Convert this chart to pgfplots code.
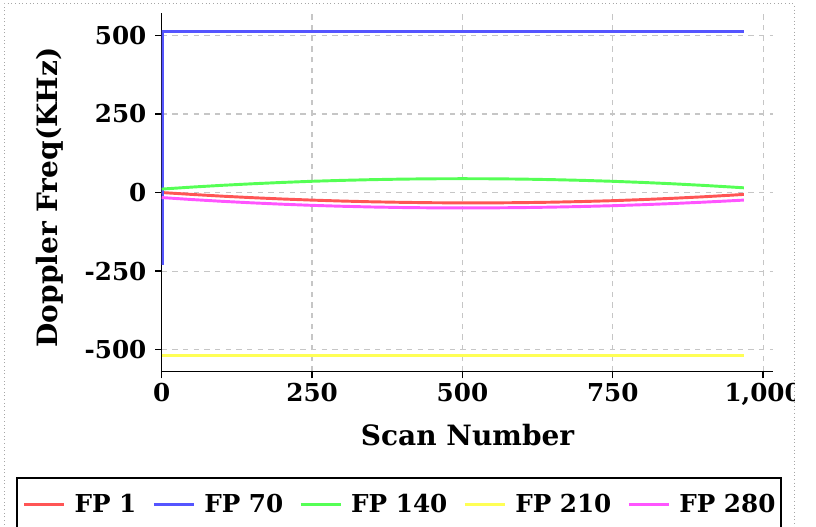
\documentclass[border=0pt]{standalone}
\usepackage{fontspec}
\setmainfont{DejaVu Serif}
\usepackage{pgfplots}
\pgfplotsset{compat=1.18}
\definecolor{fpred}{HTML}{FF5555}
\definecolor{fpblue}{HTML}{5555FF}
\definecolor{fpgreen}{HTML}{55FF55}
\definecolor{fpyellow}{HTML}{FFFF55}
\definecolor{fpmag}{HTML}{FF55FF}
\begin{document}
\begin{tikzpicture}
\path[use as bounding box] (0pt,0pt) rectangle (612pt,394.5pt);
\begin{scope}
\clip (3pt,-10pt) rectangle (595.5pt,391.5pt);
\begin{axis}[
  at={(121.3pt,115.7pt)}, anchor=south west,
  scale only axis, width=458.7pt, height=268.8pt,
  xmin=0, xmax=1017, ymin=-570, ymax=570,
  axis x line*=bottom, axis y line*=left,
  axis line style={-, line width=1.1pt},
  xtick={0,250,500,750,1000}, xticklabels={0,250,500,750,{1,000}},
  ytick={-500,-250,0,250,500}, yticklabels={-500,-250,0,250,500},
  tick align=outside, major tick length=5pt,
  tick style={black, line width=1pt},
  grid=major,
  major grid style={gray!45, line width=0.9pt, dash pattern=on 4pt off 4pt},
  ticklabel style={font=\fontsize{18.5pt}{20pt}\selectfont\bfseries},
  yticklabel style={xshift=-3pt},
  xlabel={Scan Number}, ylabel={Doppler Freq(KHz)},
  label style={font=\fontsize{21pt}{24pt}\selectfont\bfseries},
  xlabel style={at={(axis description cs:0.5,-0.146)}, anchor=north, inner sep=0pt},
  ylabel style={at={(axis description cs:-0.161,0.486)}, anchor=south, inner sep=0pt},
  legend columns=5,
  legend image code/.code={\draw[#1] (0pt,0pt) -- (30pt,0pt);},
  legend style={at={(axis description cs:0.388,-0.2938)}, anchor=north,
    draw=black, line width=1.5pt, inner xsep=4.5pt, inner ysep=6pt,
    font=\fontsize{18.5pt}{20pt}\selectfont\bfseries,
    nodes={inner xsep=0pt, inner ysep=6pt},
    /tikz/every odd column/.append style={column sep=6.75pt},
    /tikz/every even column/.append style={column sep=12pt}},
]
\addplot[fpred, line width=2.2pt] coordinates {
(0,0) (50,-6) (100,-11.5) (150,-16.3) (200,-20.5) (250,-24.1) (300,-27.1)
(350,-29.5) (400,-31.2) (450,-32.4) (500,-33) (520,-33) (550,-32.9) (600,-32.1)
(650,-30.7) (700,-28.6) (750,-25.9) (800,-22.4) (850,-18.3) (900,-13.6)
(950,-8.1) (968,-6)};
\addlegendentry{FP 1}
\addplot[fpblue, line width=2.2pt] coordinates {
(2,-230) (2,513) (968,513)};
\addlegendentry{FP 70}
\addplot[fpgreen, line width=2.2pt] coordinates {
(0,11) (50,17.3) (100,22.9) (150,27.8) (200,32.1) (250,35.8) (300,38.7)
(350,41) (400,42.7) (450,43.7) (500,44) (550,43.7) (600,42.7) (650,41)
(700,38.7) (750,35.7) (800,32.1) (850,27.8) (900,22.8) (950,17.2) (968,15)};
\addlegendentry{FP 140}
\addplot[fpyellow, line width=2.2pt] coordinates {
(0,-517) (968,-517)};
\addlegendentry{FP 210}
\addplot[fpmag, line width=2.2pt] coordinates {
(0,-16) (50,-22.3) (100,-27.9) (150,-32.8) (200,-37.1) (250,-40.8) (300,-43.7)
(350,-46) (400,-47.7) (450,-48.7) (500,-49) (550,-48.7) (600,-47.9) (650,-46.4)
(700,-44.4) (750,-41.9) (800,-38.7) (850,-35) (900,-30.7) (950,-25.9) (968,-24)};
\addlegendentry{FP 280}
\end{axis}
\end{scope}
\draw[gray!70, dotted, line width=0.75pt] (3pt,-10pt) rectangle (595.5pt,391.5pt);
\end{tikzpicture}
\end{document}
